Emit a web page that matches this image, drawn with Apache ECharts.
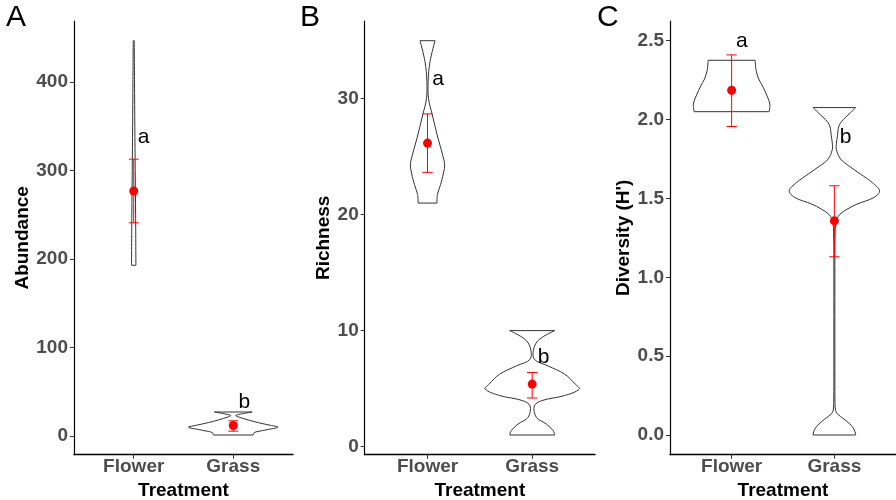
<!DOCTYPE html>
<html lang="en">
<head>
<meta charset="UTF-8" />
<title>Abundance, richness and diversity by treatment</title>
<script src="https://cdn.jsdelivr.net/npm/echarts@6/dist/echarts.min.js"></script>
<style>
  html, body { margin: 0; padding: 0; background: #fff; }
  #chart { width: 896px; height: 500px; }
</style>
</head>
<body>
<div id="chart"></div>
<script>
  var treatments = ["Flower", "Grass"];
  var letterX = [1.1, 2.11];

  // violin outlines, top to bottom: [value, half width in x units]
  var abundanceViolinFlower = [[447, 0.005], [400, 0.008], [350, 0.011], [300, 0.015], [250, 0.019], [193, 0.022]];
  var abundanceViolinGrass = [[27, 0.19], [25, 0.09], [23, 0.025], [21.5, 0.05], [18, 0.15], [15, 0.25], [12, 0.37], [9.8, 0.45], [7, 0.34], [5, 0.25], [3.7, 0.21], [1, 0.2]];
  var abundanceMean = [277, 11.7];
  var abundanceLow = [241, 5.3];
  var abundanceHigh = [313, 17];
  var abundanceLetters = ["a", "b"];
  var abundanceLetterY = [338, 37.6];
  var abundanceTicks = [0, 100, 200, 300, 400];

  var richnessViolinFlower = [[35, 0.072], [33.2, 0.024], [31.5, 0.006], [30, 0.01], [28.6, 0.046], [26.6, 0.1], [24.6, 0.16], [24, 0.162], [22.6, 0.125], [21.75, 0.095], [21, 0.09]];
  var richnessViolinGrass = [[10, 0.215], [9.26, 0.07], [8.54, 0.018], [7.54, 0.02], [6.96, 0.15], [6.25, 0.31], [5.4, 0.41], [4.96, 0.45], [4.4, 0.31], [3.96, 0.09], [3.5, 0.02], [2.52, 0.04], [1.95, 0.135], [1.38, 0.2], [1, 0.215]];
  var richnessMean = [26.17, 5.39];
  var richnessLow = [23.65, 4.19];
  var richnessHigh = [28.69, 6.39];
  var richnessLetters = ["a", "b"];
  var richnessLetterY = [31.7, 7.7];
  var richnessTicks = [0, 10, 20, 30];

  var diversityViolinFlower = [[2.376, 0.229], [2.309, 0.239], [2.256, 0.265], [2.214, 0.3], [2.15, 0.345], [2.098, 0.372], [2.05, 0.365]];
  var diversityViolinGrass = [[2.076, 0.207], [2.044, 0.158], [2.0, 0.087], [1.96, 0.045], [1.897, 0.03], [1.85, 0.02], [1.81, 0.02], [1.75, 0.06], [1.707, 0.14], [1.654, 0.255], [1.6, 0.37], [1.548, 0.44], [1.506, 0.385], [1.464, 0.22], [1.432, 0.125], [1.4, 0.055], [1.369, 0.025], [1.3, 0.008], [1.0, 0.005], [0.5, 0.005], [0.2, 0.006], [0.155, 0.012], [0.133, 0.03], [0.101, 0.094], [0.07, 0.15], [0.038, 0.19], [0.006, 0.207], [0, 0.207]];
  var diversityMean = [2.186, 1.358];
  var diversityLow = [1.956, 1.13];
  var diversityHigh = [2.41, 1.58];
  var diversityLetters = ["a", "b"];
  var diversityLetterY = [2.5, 1.886];
  var diversityTicks = [0, 0.5, 1, 1.5, 2, 2.5];

  var FONT = "Liberation Sans, Arial, Helvetica, sans-serif";

  function violinSeries(idx, profiles) {
    return {
      type: "custom", xAxisIndex: idx, yAxisIndex: idx, z: 2,
      data: profiles.map(function (p, i) { return [i + 1, p[0][0]]; }),
      renderItem: function (params, api) {
        var prof = profiles[params.dataIndex];
        var x = api.value(0);
        var right = prof.map(function (d) { return api.coord([x + d[1], d[0]]); });
        var left = prof.map(function (d) { return api.coord([x - d[1], d[0]]); });
        var st = { stroke: "#333", lineWidth: 1, fill: null };
        var n = prof.length - 1;
        return {
          type: "group",
          children: [
            { type: "polyline", shape: { points: right, smooth: 0.35 }, style: st },
            { type: "polyline", shape: { points: left, smooth: 0.35 }, style: st },
            { type: "line", shape: { x1: left[0][0], y1: left[0][1], x2: right[0][0], y2: right[0][1] }, style: st },
            { type: "line", shape: { x1: left[n][0], y1: left[n][1], x2: right[n][0], y2: right[n][1] }, style: st }
          ]
        };
      }
    };
  }

  function errorSeries(idx, low, high) {
    return {
      type: "custom", xAxisIndex: idx, yAxisIndex: idx, z: 3,
      data: low.map(function (l, i) { return [i + 1, l, high[i]]; }),
      renderItem: function (params, api) {
        var x = api.value(0);
        var lo = api.coord([x, api.value(1)]);
        var hi = api.coord([x, api.value(2)]);
        var capL = api.coord([x - 0.05, api.value(2)])[0];
        var capR = api.coord([x + 0.05, api.value(2)])[0];
        var st = { stroke: "#ff0000", lineWidth: 1 };
        return {
          type: "group",
          children: [
            { type: "line", shape: { x1: lo[0], y1: lo[1], x2: hi[0], y2: hi[1] }, style: st },
            { type: "line", shape: { x1: capL, y1: hi[1], x2: capR, y2: hi[1] }, style: st },
            { type: "line", shape: { x1: capL, y1: lo[1], x2: capR, y2: lo[1] }, style: st }
          ]
        };
      }
    };
  }

  function meanSeries(idx, mean) {
    return {
      type: "scatter", xAxisIndex: idx, yAxisIndex: idx, z: 4,
      symbolSize: 9, itemStyle: { color: "#ff0000", opacity: 1 },
      data: mean.map(function (m, i) { return [i + 1, m]; })
    };
  }

  function letterSeries(idx, letters, ys) {
    return {
      type: "custom", xAxisIndex: idx, yAxisIndex: idx, z: 5,
      data: ys.map(function (y, i) { return [letterX[i], y]; }),
      renderItem: function (params, api) {
        var p = api.coord([api.value(0), api.value(1)]);
        return {
          type: "text", x: p[0], y: p[1],
          style: { text: letters[params.dataIndex], fontSize: 21, fontFamily: FONT, fill: "#000", align: "center", verticalAlign: "middle" }
        };
      }
    };
  }

  function xAxis(idx) {
    return {
      type: "value", gridIndex: idx, min: 0.4, max: 2.6,
      name: "Treatment", nameLocation: "middle", nameGap: 24,
      nameTextStyle: { fontSize: 19, fontWeight: "bold", color: "#000", fontFamily: FONT },
      axisLine: { onZero: false, lineStyle: { color: "#000", width: 1.4 } },
      axisTick: { customValues: [1, 2], length: 4, lineStyle: { color: "#333" } },
      axisLabel: {
        customValues: [1, 2], margin: 3, fontSize: 19, fontWeight: "bold", color: "#4d4d4d", fontFamily: FONT,
        formatter: function (v) { return treatments[Math.round(v) - 1]; }
      },
      splitLine: { show: false }
    };
  }

  function yAxis(idx, name, min, max, ticks, gap, digits) {
    return {
      type: "value", gridIndex: idx, min: min, max: max,
      name: name, nameLocation: "middle", nameGap: gap,
      nameTextStyle: { fontSize: 19, fontWeight: "bold", color: "#000", fontFamily: FONT },
      axisLine: { show: true, onZero: false, lineStyle: { color: "#000", width: 1.2 } },
      axisTick: { show: true, customValues: ticks, length: 4, lineStyle: { color: "#333" } },
      axisLabel: {
        customValues: ticks, margin: 6, fontSize: 19, fontWeight: "bold", color: "#4d4d4d", fontFamily: FONT,
        formatter: function (v) { return v.toFixed(digits); }
      },
      splitLine: { show: false }
    };
  }

  var panelStyle = { fontSize: 30, fontWeight: "normal", color: "#000", fontFamily: FONT };

  var chart = echarts.init(document.getElementById("chart"), null, { renderer: "canvas" });
  chart.setOption({
    animation: false,
    backgroundColor: "#fff",
    title: [
      { text: "A", left: 6, top: 3, padding: 0, textStyle: panelStyle },
      { text: "B", left: 300, top: 3, padding: 0, textStyle: panelStyle },
      { text: "C", left: 597, top: 3, padding: 0, textStyle: panelStyle }
    ],
    grid: [
      { left: 74, top: 21, width: 219, bottom: 45.3, outerBoundsMode: "none" },
      { left: 364.7, top: 21, width: 230.3, bottom: 45.3, outerBoundsMode: "none" },
      { left: 670, top: 21, width: 226, bottom: 45.3, outerBoundsMode: "none" }
    ],
    xAxis: [xAxis(0), xAxis(1), xAxis(2)],
    yAxis: [
      yAxis(0, "Abundance", -21.3, 469.3, abundanceTicks, 40, 0),
      yAxis(1, "Richness", -0.7, 36.7, richnessTicks, 31, 0),
      yAxis(2, "Diversity (H')", -0.125, 2.625, diversityTicks, 35, 1)
    ],
    series: [
      violinSeries(0, [abundanceViolinFlower, abundanceViolinGrass]),
      errorSeries(0, abundanceLow, abundanceHigh),
      meanSeries(0, abundanceMean),
      letterSeries(0, abundanceLetters, abundanceLetterY),
      violinSeries(1, [richnessViolinFlower, richnessViolinGrass]),
      errorSeries(1, richnessLow, richnessHigh),
      meanSeries(1, richnessMean),
      letterSeries(1, richnessLetters, richnessLetterY),
      violinSeries(2, [diversityViolinFlower, diversityViolinGrass]),
      errorSeries(2, diversityLow, diversityHigh),
      meanSeries(2, diversityMean),
      letterSeries(2, diversityLetters, diversityLetterY)
    ]
  });
</script>
</body>
</html>
